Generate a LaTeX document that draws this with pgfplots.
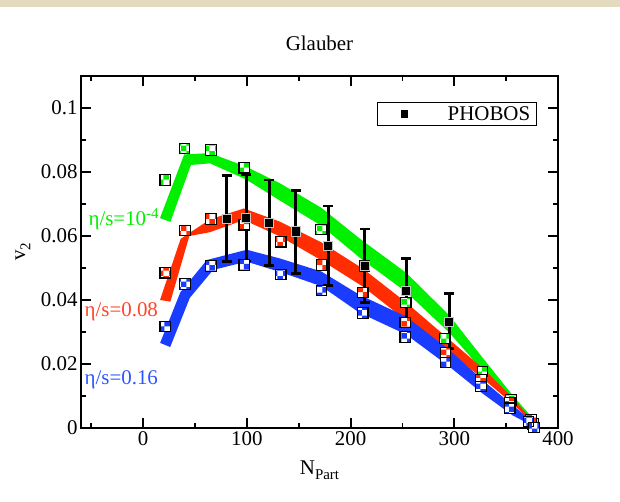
\documentclass[border=0pt]{standalone}
\usepackage{fontspec}
\setmainfont{Liberation Serif}
\usepackage{pgfplots}
\pgfplotsset{compat=1.18}
\usepackage{pgfplotstable}
\usetikzlibrary{patterns}
\definecolor{cgreen}{RGB}{0,240,0}
\definecolor{cred}{RGB}{255,45,0}
\definecolor{cblue}{RGB}{25,60,255}
\definecolor{tred}{RGB}{255,70,40}
\definecolor{tblue}{RGB}{45,85,255}
\definecolor{beige}{RGB}{228,218,190}

\pgfplotstableread{
N v
21.2 0.0775
39.7 0.0873
65.4 0.0869
97.4 0.0813
171.4 0.0620
213.5 0.0506
253.2 0.0392
290.4 0.0280
327.2 0.0176
354.8 0.0088
376.0 0.0013
}\hydrogreen
\pgfplotstableread{
N v
21.2 0.0485
40.4 0.0617
65.4 0.0653
97.4 0.0635
132.7 0.0582
171.8 0.0509
211.8 0.0423
252.6 0.0330
291.3 0.0236
325.7 0.0152
353.5 0.0078
374.0 0.0025
}\hydrored
\pgfplotstableread{
N v
21.2 0.0317
40.4 0.0450
65.4 0.0506
97.4 0.0509
132.7 0.0480
171.8 0.0429
211.8 0.0359
252.6 0.0284
291.3 0.0205
325.7 0.0129
353.5 0.0062
371.5 0.0020
376.9 0.0002
}\hydroblue
\pgfplotstableread{
N v ep em
80.5 0.0653 0.0137 0.0133
99.4 0.0657 0.0135 0.0135
121.5 0.0642 0.0133 0.0135
147.3 0.0614 0.0127 0.0131
178.3 0.0569 0.0125 0.0123
213.5 0.0506 0.0116 0.0113
253.5 0.0428 0.0101 0.0103
295.2 0.0332 0.0088 0.0084
}\phobos

\pgfplotsset{
  hsqbase/.style={only marks, forget plot, mark=square*, mark size=5.2bp,
    mark options={draw=black, line width=1.1bp, fill=white}},
  hsqpat/.style={only marks, forget plot, mark=square*, mark size=5.2bp,
    mark options={draw=black, line width=1.1bp, pattern=checkerboard, pattern color=#1}},
}

\begin{document}
\begin{tikzpicture}[font=\fontsize{21}{25}\selectfont]
\path[use as bounding box] (-81bp,-74bp) rectangle (539bp,428bp);
\fill[white] (-81bp,-74bp) rectangle (539bp,428bp);
\fill[beige] (-81bp,421bp) rectangle (539bp,428bp);
\begin{axis}[
  at={(0,0)}, anchor=south west,
  scale only axis, width=477bp, height=352bp,
  xmin=-60, xmax=400, ymin=0, ymax=0.11,
  xtick={0,100,200,300,400},
  minor xtick={-50,50,150,250,350},
  ytick={0,0.02,0.04,0.06,0.08,0.1},
  minor ytick={0.01,0.03,0.05,0.07,0.09},
  yticklabel style={/pgf/number format/fixed, /pgf/number format/precision=2},
  /pgf/number format/assume math mode=true,
  tick align=inside,
  major tick length=10bp, minor tick length=5bp,
  axis line style={line width=2.4bp},
  every tick/.style={line width=1.8bp, black},
  tick label style={font=\fontsize{21}{25}\selectfont},
  title={Glauber},
  title style={at={(axis description cs:0.5,1.0568)}, anchor=base, font=\fontsize{21}{25}\selectfont},
  xlabel={N\raisebox{-0.55ex}{\fontsize{15}{15}\selectfont Part}},
  ylabel={v\raisebox{-0.55ex}{\fontsize{15}{15}\selectfont 2}},
  every axis x label/.style={at={(axis description cs:0.5,-0.1307)}, anchor=base, font=\fontsize{21}{25}\selectfont},
  every axis y label/.style={at={(axis description cs:-0.1216,0.5)}, rotate=90, anchor=center, font=\fontsize{21}{25}\selectfont},
  legend style={at={(axis description cs:0.9553,0.9253)}, anchor=north east,
    draw=black, line width=0.9bp, inner xsep=2bp, inner ysep=1bp,
    font=\fontsize{21}{25}\selectfont,
    nodes={inner xsep=4bp, inner ysep=2.5bp}},
  legend cell align=left,
]
% bands
\addplot[fill=cgreen, draw=none, forget plot] coordinates {
 (16.2,0.0656) (39.5,0.0855) (64.4,0.0859) (99,0.0817) (131.7,0.0765) (171.8,0.0688)
 (210,0.0589) (253.6,0.0485) (295.2,0.0352) (327.2,0.0220) (356,0.0103) (375,0.0033)
 (375,0.0023) (356,0.0079) (327.2,0.0180) (295.2,0.0298) (253.6,0.0425) (210,0.0529)
 (171.8,0.0632) (131.7,0.0711) (99,0.0777) (64.4,0.0827) (46,0.0822) (26.2,0.0644)
} -- cycle;
\addplot[fill=cred, draw=none, forget plot] coordinates {
 (16.2,0.0400) (36.1,0.0591) (64.4,0.0652) (97,0.0686) (131.7,0.0645) (171.8,0.0580)
 (211.8,0.0498) (253.3,0.0393) (291,0.0288) (327,0.0188) (355,0.0099) (375,0.0025)
 (375,0.0019) (355,0.0079) (327,0.0156) (291,0.0246) (253.3,0.0337) (211.8,0.0442)
 (171.8,0.0524) (131.7,0.0599) (97,0.0650) (64.4,0.0612) (44.5,0.0600) (26.2,0.0395)
} -- cycle;
\addplot[fill=cblue, draw=none, forget plot] coordinates {
 (16.3,0.0266) (35.8,0.0424) (61.4,0.0525) (99.8,0.0557) (131.7,0.0530) (171.8,0.0489)
 (208.7,0.0416) (253.6,0.0348) (295.2,0.0244) (327.2,0.0150) (356,0.0072) (377,0.0016)
 (377,0.0004) (356,0.0040) (327.2,0.0108) (295.2,0.0192) (253.6,0.0292) (208.7,0.0360)
 (171.8,0.0443) (131.7,0.0488) (99.6,0.0520) (67.4,0.0494) (45,0.0407) (26.0,0.0253)
} -- cycle;
% hydro squares
\addplot[hsqbase] table[x=N,y=v] {\hydrogreen};
\addplot[hsqpat=cgreen] table[x=N,y=v] {\hydrogreen};
\addplot[hsqbase] table[x=N,y=v] {\hydrored};
\addplot[hsqpat=cred] table[x=N,y=v] {\hydrored};
\addplot[hsqbase] table[x=N,y=v] {\hydroblue};
\addplot[hsqpat=cblue] table[x=N,y=v] {\hydroblue};
% PHOBOS
\addplot[black, only marks, mark=square*, mark size=4.6bp,
  mark options={fill=black, draw=gray!45, line width=0.9bp},
  legend image code/.code={
    \path[draw=none, fill=none] (0bp,-5bp) rectangle (64bp,5bp);
    \fill[black, draw=none] (21.5bp,-3.6bp) rectangle (28.5bp,3.6bp);},
  error bars/.cd, y dir=both, y explicit,
  error bar style={line width=3bp, black},
  error mark options={rotate=90, mark size=5bp, line width=2.8bp, black}]
  table[x=N, y=v, y error plus=ep, y error minus=em] {\phobos};
\addlegendentry{PHOBOS}
% labels
\node[anchor=base west, inner sep=0pt, text=cgreen] at (axis cs:-52.9,0.0632)
  {η/s=10\raisebox{0.75ex}{\fontsize{15}{15}\selectfont -4}};
\node[anchor=base west, inner sep=0pt, text=tred] at (axis cs:-56.7,0.0348) {η/s=0.08};
\node[anchor=base west, inner sep=0pt, text=tblue] at (axis cs:-56.7,0.01375) {η/s=0.16};
\end{axis}
\end{tikzpicture}
\end{document}
